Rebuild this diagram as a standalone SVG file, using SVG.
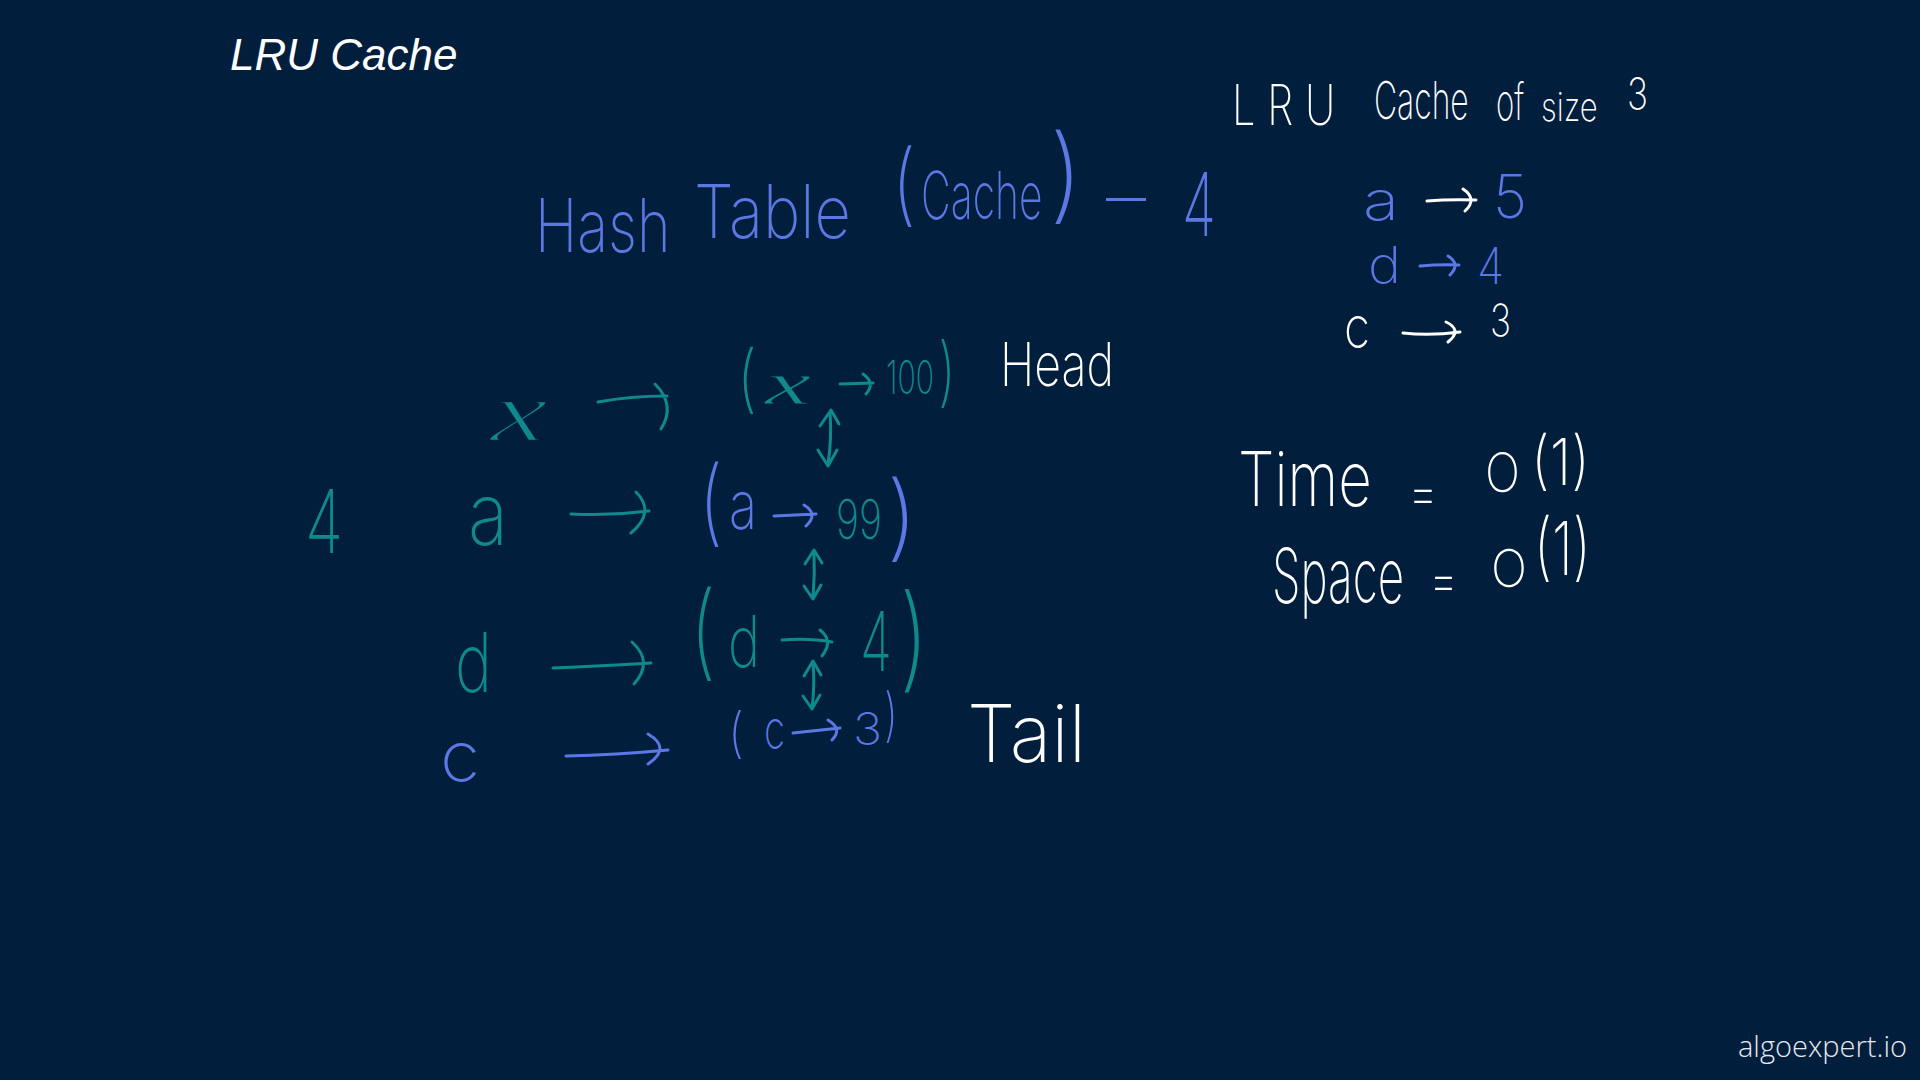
<svg xmlns="http://www.w3.org/2000/svg" width="1920" height="1080" viewBox="0 0 1920 1080">
<style>
.h{font-family:Inter,"Open Sans","DejaVu Sans",sans-serif;font-weight:200}
.xi{font-family:"Liberation Serif","DejaVu Serif",serif;font-style:italic;font-weight:normal;stroke:#011e3c;stroke-width:2.5}
.xs{stroke-width:1}
.w{fill:#ffffff}
.b{fill:#5b78e4}
.t{fill:#0f8a8c}
.sw{stroke:#ffffff}
.sb{stroke:#5b78e4}
.st{stroke:#0f8a8c}
.c path{fill:none;stroke-width:3;stroke-linecap:round;stroke-linejoin:round}
</style>
<rect width="1920" height="1080" fill="#011e3c"/>
<g id="title"><text x="230" y="70" font-family="Liberation Sans, Arial, sans-serif" font-style="italic" font-size="44" fill="#ffffff">LRU Cache</text></g>
<g id="cache-size-header">
<text class="h w" transform="translate(1232 125) scale(0.77 1)" font-size="56" textLength="134" lengthAdjust="spacingAndGlyphs">L R U</text>
<text class="h w" transform="translate(1374 119) scale(0.64 1)" font-size="52" textLength="148" lengthAdjust="spacingAndGlyphs">Cache</text>
<text class="h w" transform="translate(1496 120) scale(0.6 1)" font-size="50" textLength="47" lengthAdjust="spacingAndGlyphs">of</text>
<text class="h w" transform="translate(1541 121) scale(0.81 1)" font-size="40" textLength="70" lengthAdjust="spacingAndGlyphs">size</text>
<text class="h w" x="1627" y="110" font-size="45" textLength="21" lengthAdjust="spacingAndGlyphs">3</text>
</g>
<g id="entry-a"><text class="h b" x="1363" y="220" font-size="54" textLength="36" lengthAdjust="spacingAndGlyphs">a</text><text class="h b" x="1493" y="218" font-size="60" textLength="34" lengthAdjust="spacingAndGlyphs">5</text></g>
<g id="entry-d"><text class="h b" x="1368" y="283" font-size="50" textLength="33" lengthAdjust="spacingAndGlyphs">d</text><text class="h b" x="1477" y="284" font-size="50" textLength="27" lengthAdjust="spacingAndGlyphs">4</text></g>
<g id="entry-c"><text class="h w" x="1344" y="348" font-size="58" textLength="26" lengthAdjust="spacingAndGlyphs">c</text><text class="h w" x="1490" y="336" font-size="44" textLength="21" lengthAdjust="spacingAndGlyphs">3</text></g>
<g id="hash-table-label">
<text class="h b" transform="translate(535 252) scale(0.77 1)" font-size="74" textLength="176" lengthAdjust="spacingAndGlyphs">Hash</text>
<text class="h b" transform="translate(694 238) scale(0.83 1)" font-size="74" textLength="189" lengthAdjust="spacingAndGlyphs">Table</text>
<text class="h b" x="892" y="215" font-size="90" textLength="24" lengthAdjust="spacingAndGlyphs">(</text>
<text class="h b" transform="translate(921 219) scale(0.65 1)" font-size="66" textLength="187" lengthAdjust="spacingAndGlyphs">Cache</text>
<text class="h b" x="1049" y="210" font-size="104" textLength="34" lengthAdjust="spacingAndGlyphs">)</text>
<text class="h b" x="1106" y="222" font-size="72" textLength="40" lengthAdjust="spacingAndGlyphs">–</text>
<text class="h b" x="1182" y="236" font-size="88" textLength="34" lengthAdjust="spacingAndGlyphs">4</text>
</g>
<g id="size-count"><text class="h t" x="305" y="553" font-size="88" textLength="38" lengthAdjust="spacingAndGlyphs">4</text></g>
<g id="key-x"><text class="xi t" x="490" y="441" font-size="86" textLength="58" lengthAdjust="spacingAndGlyphs">x</text></g>
<g id="key-a"><text class="h t" x="468" y="545" font-size="86" textLength="40" lengthAdjust="spacingAndGlyphs">a</text></g>
<g id="key-d"><text class="h t" x="455" y="692" font-size="82" textLength="37" lengthAdjust="spacingAndGlyphs">d</text></g>
<g id="key-c"><text class="h b" x="440" y="782" font-size="72" textLength="40" lengthAdjust="spacingAndGlyphs">c</text></g>
<g id="node-x">
<text class="h t" x="737" y="404" font-size="74" textLength="20" lengthAdjust="spacingAndGlyphs">(</text>
<text class="xi xs t" x="765" y="404" font-size="62" textLength="46" lengthAdjust="spacingAndGlyphs">x</text>
<text class="h t" transform="translate(886 394) scale(0.61 1)" font-size="46" textLength="79" lengthAdjust="spacingAndGlyphs">100</text>
<text class="h t" x="938" y="398" font-size="76" textLength="18" lengthAdjust="spacingAndGlyphs">)</text>
</g>
<g id="node-a">
<text class="h b" x="699" y="534" font-size="94" textLength="24" lengthAdjust="spacingAndGlyphs">(</text>
<text class="h b" x="729" y="529" font-size="68" textLength="28" lengthAdjust="spacingAndGlyphs">a</text>
<text class="h t" transform="translate(836 539) scale(0.73 1)" font-size="55" textLength="63" lengthAdjust="spacingAndGlyphs">99</text>
<text class="h b" x="886" y="549" font-size="94" textLength="32" lengthAdjust="spacingAndGlyphs">)</text>
</g>
<g id="node-d">
<text class="h t" x="690" y="667" font-size="104" textLength="26" lengthAdjust="spacingAndGlyphs">(</text>
<text class="h t" x="728" y="667" font-size="72" textLength="32" lengthAdjust="spacingAndGlyphs">d</text>
<text class="h t" transform="translate(860 671) scale(0.68 1)" font-size="82" textLength="47" lengthAdjust="spacingAndGlyphs">4</text>
<text class="h t" x="899" y="677" font-size="114" textLength="30" lengthAdjust="spacingAndGlyphs">)</text>
</g>
<g id="node-c">
<text class="h b" x="728" y="752" font-size="54" textLength="16" lengthAdjust="spacingAndGlyphs">(</text>
<text class="h b" x="764" y="749" font-size="54" textLength="21" lengthAdjust="spacingAndGlyphs">c</text>
<text class="h b" x="853" y="745" font-size="45" textLength="29" lengthAdjust="spacingAndGlyphs">3</text>
<text class="h b" x="884" y="735" font-size="58" textLength="14" lengthAdjust="spacingAndGlyphs">)</text>
</g>
<g id="label-head"><text class="h w" transform="translate(1000 386) scale(0.77 1)" font-size="60" textLength="148" lengthAdjust="spacingAndGlyphs">Head</text></g>
<g id="label-tail"><text class="h w" x="967" y="762" font-size="80" textLength="119" lengthAdjust="spacingAndGlyphs">Tail</text></g>
<g id="time-complexity">
<text class="h w" transform="translate(1238 506) scale(0.76 1)" font-size="76" textLength="176" lengthAdjust="spacingAndGlyphs">Time</text>
<text class="h w" x="1408" y="512" font-size="56" textLength="30" lengthAdjust="spacingAndGlyphs">=</text>
<text class="h w" x="1485" y="492" font-size="54" textLength="35" lengthAdjust="spacingAndGlyphs">O</text>
<text class="h w" x="1531" y="485" font-size="64" textLength="59" lengthAdjust="spacingAndGlyphs">(1)</text>
</g>
<g id="space-complexity">
<text class="h w" transform="translate(1272 603) scale(0.62 1)" font-size="76" textLength="213" lengthAdjust="spacingAndGlyphs">Space</text>
<text class="h w" x="1429" y="599" font-size="56" textLength="29" lengthAdjust="spacingAndGlyphs">=</text>
<text class="h w" x="1491" y="587" font-size="52" textLength="36" lengthAdjust="spacingAndGlyphs">O</text>
<text class="h w" x="1534" y="575" font-size="74" textLength="57" lengthAdjust="spacingAndGlyphs">(1)</text>
</g>
<g id="watermark"><text x="1738" y="1057" font-family="Open Sans, DejaVu Sans, sans-serif" font-weight="300" font-size="30" fill="#e6e9ee" textLength="169" lengthAdjust="spacingAndGlyphs">algoexpert.io</text></g>
<g id="connectors" class="c">
<path class="sw" d="M1427 201 Q1450 199 1476 200 M1463 189 Q1478 199 1465 211"/>
<path class="sb" d="M1420 266 Q1440 264 1459 265 M1448 256 Q1461 264 1450 275"/>
<path class="sw" d="M1403 333 Q1430 336 1460 332 M1446 322 Q1463 330 1448 342"/>
<path class="st" d="M598 402 Q630 396 667 396 M655 384 Q676 405 661 429"/>
<path class="st" d="M571 514 Q610 516 649 511 M636 492 Q656 512 631 533"/>
<path class="st" d="M553 668 Q600 666 651 663 M632 642 Q654 662 634 684"/>
<path class="sb" d="M566 756 Q615 755 668 750 M648 734 Q672 748 648 764"/>
<path class="st" d="M840 384 L873 383 M863 374 Q876 383 866 394"/>
<path class="sb" d="M774 516 L816 514 M804 505 Q819 514 806 526"/>
<path class="st" d="M782 640 Q810 638 832 642 M820 630 Q834 641 822 656"/>
<path class="sb" d="M793 733 L840 728 M828 720 Q843 729 832 740"/>
<path class="st" d="M830 412 Q832 438 828 464 M820 426 L831 410 L839 424 M818 450 L828 466 L837 450"/>
<path class="st" d="M814 551 Q815 574 813 598 M805 564 L814 550 L822 563 M804 586 L813 599 L821 585"/>
<path class="st" d="M813 662 Q815 685 812 708 M804 676 L813 661 L821 675 M803 696 L812 709 L820 695"/>
</g>
</svg>
